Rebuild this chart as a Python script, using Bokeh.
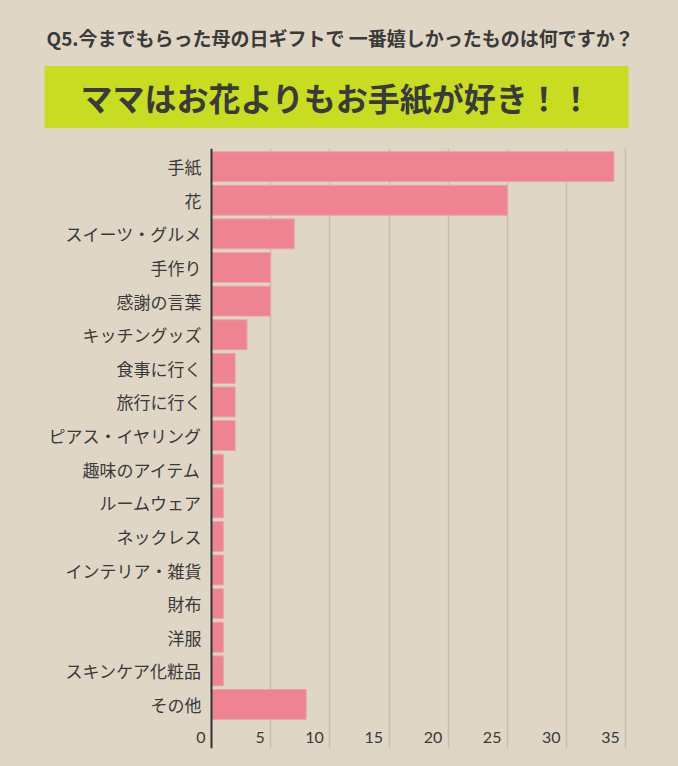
from bokeh.plotting import figure
from bokeh.models import Range1d, FixedTicker, Grid, ColumnDataSource, LabelSet, Span, Title
from bokeh.core.properties import value
from bokeh.embed import file_html
from bokeh.resources import INLINE

# ---- data ----
title_text = "Q5.今までもらった母の日ギフトで 一番嬉しかったものは何ですか？"
banner_text = "ママはお花よりもお手紙が好き！！"
categories = ["手紙", "花", "スイーツ・グルメ", "手作り", "感謝の言葉", "キッチングッズ",
              "食事に行く", "旅行に行く", "ピアス・イヤリング", "趣味のアイテム", "ルームウェア",
              "ネックレス", "インテリア・雑貨", "財布", "洋服", "スキンケア化粧品", "その他"]
counts = [34, 25, 7, 5, 5, 3, 2, 2, 2, 1, 1, 1, 1, 1, 1, 1, 8]
x_ticks = [0, 5, 10, 15, 20, 25, 30, 35]
x_tick_labels = ["0", "5", "10", "15", "20", "25", "30", "35"]

BG = "#DFD6C6"
TXT = "#3A3A3A"
JP = "Noto Sans CJK JP"

n = len(categories)
ypos = [n - 1 - i for i in range(n)]
src = ColumnDataSource(dict(y=ypos, right=counts, cat=categories))

px_per_unit = 11.837
x0 = -211 / px_per_unit
x1 = (678 - 211) / px_per_unit

p = figure(width=678, height=766, x_range=Range1d(x0, x1), y_range=Range1d(-1.31, n - 1 + 0.54),
           toolbar_location=None, output_backend="svg", title=None,
           x_axis_location=None, y_axis_location=None,
           min_border_left=0, min_border_right=0, min_border_top=148, min_border_bottom=18,
           background_fill_color=BG, border_fill_color=BG, outline_line_color=None)
p.grid.visible = False

g = Grid(dimension=0, ticker=FixedTicker(ticks=x_ticks[1:]), grid_line_color="#C9BFAE",
         grid_line_width=1.5)
p.add_layout(g)

p.hbar(y="y", right="right", left=0, height=0.89, source=src,
       fill_color="#EE8492", line_color="#EAA3A8", line_width=1)

p.add_layout(Span(location=0, dimension="height", line_color="#333333", line_width=2))

# category labels
p.text(x=0, y="y", text="cat", source=src, x_offset=-10, text_align="right",
       text_baseline="middle", text_font=value(JP), text_font_size="17px", text_color=TXT)

# value tick labels
tsrc = ColumnDataSource(dict(x=x_ticks, y=[-1.31] * len(x_ticks), t=x_tick_labels))
ls = LabelSet(x="x", y="y", text="t", source=tsrc, x_offset=-6, y_offset=11,
              text_align="right", text_baseline="middle", text_font=value("Lato"),
              text_font_size="16px", text_color=TXT)
p.add_layout(ls)

# header: banner (nearest the plot) then question above it
banner = Title(text=banner_text, align="left", offset=44, standoff=41,
               text_font=JP, text_font_style="bold", text_font_size="32px", text_color=TXT,
               background_fill_color="#C8DC22",
               padding=dict(left=36, right=36, top=8, bottom=8))
p.add_layout(banner, "above")
question = Title(text=title_text, align="left", offset=46, standoff=-14,
                 text_font=JP, text_font_style="bold", text_font_size="19px", text_color=TXT)
p.add_layout(question, "above")

html = file_html(p, INLINE)
html = html.replace("</head>", "<style>html,body{background:#DFD6C6;}</style></head>", 1)
open("out.html", "w").write(html)
